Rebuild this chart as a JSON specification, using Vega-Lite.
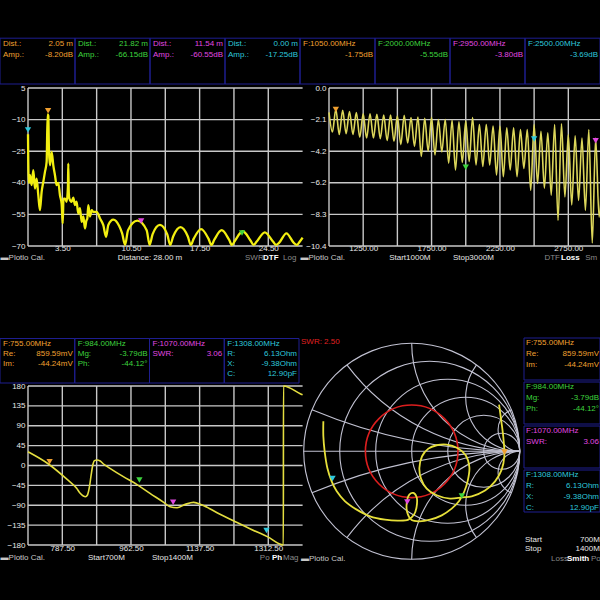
{
  "$schema": "https://vega.github.io/schema/vega-lite/v6.json",
  "width": 600,
  "height": 600,
  "autosize": {"type": "none"},
  "padding": 0,
  "background": "#000000",
  "config": {
    "view": {"stroke": null},
    "axis": {"grid": false, "domain": false, "ticks": false, "tickSize": 0, "labelColor": "#e8e8e8", "labelFont": "Liberation Sans", "labelFontSize": 8, "labelOverlap": false, "labelFlush": false, "labelBound": false, "labelAngle": 0},
    "text": {"font": "Liberation Sans", "fontSize": 8, "baseline": "middle"},
    "rule": {"color": "#c8c8c8", "strokeWidth": 1.4}
  },
  "datasets": {
    "topinfo": [
      {"col": 0, "slot": 0, "m": "o", "lab": "Dist.:", "val": "2.05 m"},
      {"col": 0, "slot": 1, "m": "o", "lab": "Amp.:", "val": "-8.20dB"},
      {"col": 1, "slot": 0, "m": "g", "lab": "Dist.:", "val": "21.82 m"},
      {"col": 1, "slot": 1, "m": "g", "lab": "Amp.:", "val": "-66.15dB"},
      {"col": 2, "slot": 0, "m": "m", "lab": "Dist.:", "val": "11.54 m"},
      {"col": 2, "slot": 1, "m": "m", "lab": "Amp.:", "val": "-60.55dB"},
      {"col": 3, "slot": 0, "m": "c", "lab": "Dist.:", "val": "0.00 m"},
      {"col": 3, "slot": 1, "m": "c", "lab": "Amp.:", "val": "-17.25dB"},
      {"col": 4, "slot": 0, "m": "o", "lab": "F:1050.00MHz", "val": ""},
      {"col": 4, "slot": 1, "m": "o", "lab": "", "val": "-1.75dB"},
      {"col": 5, "slot": 0, "m": "g", "lab": "F:2000.00MHz", "val": ""},
      {"col": 5, "slot": 1, "m": "g", "lab": "", "val": "-5.55dB"},
      {"col": 6, "slot": 0, "m": "m", "lab": "F:2950.00MHz", "val": ""},
      {"col": 6, "slot": 1, "m": "m", "lab": "", "val": "-3.80dB"},
      {"col": 7, "slot": 0, "m": "c", "lab": "F:2500.00MHz", "val": ""},
      {"col": 7, "slot": 1, "m": "c", "lab": "", "val": "-3.69dB"}
    ],
    "blinfo": [
      {"col": 0, "slot": 0, "m": "o", "lab": "F:755.00MHz", "val": ""},
      {"col": 0, "slot": 1, "m": "o", "lab": "Re:", "val": "859.59mV"},
      {"col": 0, "slot": 2, "m": "o", "lab": "Im:", "val": "-44.24mV"},
      {"col": 0, "slot": 3, "m": "o", "lab": "", "val": ""},
      {"col": 1, "slot": 0, "m": "g", "lab": "F:984.00MHz", "val": ""},
      {"col": 1, "slot": 1, "m": "g", "lab": "Mg:", "val": "-3.79dB"},
      {"col": 1, "slot": 2, "m": "g", "lab": "Ph:", "val": "-44.12°"},
      {"col": 1, "slot": 3, "m": "g", "lab": "", "val": ""},
      {"col": 2, "slot": 0, "m": "m", "lab": "F:1070.00MHz", "val": ""},
      {"col": 2, "slot": 1, "m": "m", "lab": "SWR:", "val": "3.06"},
      {"col": 2, "slot": 2, "m": "m", "lab": "", "val": ""},
      {"col": 2, "slot": 3, "m": "m", "lab": "", "val": ""},
      {"col": 3, "slot": 0, "m": "c", "lab": "F:1308.00MHz", "val": ""},
      {"col": 3, "slot": 1, "m": "c", "lab": "R:", "val": "6.13Ohm"},
      {"col": 3, "slot": 2, "m": "c", "lab": "X:", "val": "-9.38Ohm"},
      {"col": 3, "slot": 3, "m": "c", "lab": "C:", "val": "12.90pF"}
    ],
    "brinfo": [
      {"col": 0, "box": 0, "slot": 0, "m": "o", "lab": "F:755.00MHz", "val": ""},
      {"col": 0, "box": 0, "slot": 1, "m": "o", "lab": "Re:", "val": "859.59mV"},
      {"col": 0, "box": 0, "slot": 2, "m": "o", "lab": "Im:", "val": "-44.24mV"},
      {"col": 0, "box": 0, "slot": 3, "m": "o", "lab": "", "val": ""},
      {"col": 0, "box": 1, "slot": 4, "m": "g", "lab": "F:984.00MHz", "val": ""},
      {"col": 0, "box": 1, "slot": 5, "m": "g", "lab": "Mg:", "val": "-3.79dB"},
      {"col": 0, "box": 1, "slot": 6, "m": "g", "lab": "Ph:", "val": "-44.12°"},
      {"col": 0, "box": 1, "slot": 7, "m": "g", "lab": "", "val": ""},
      {"col": 0, "box": 2, "slot": 8, "m": "m", "lab": "F:1070.00MHz", "val": ""},
      {"col": 0, "box": 2, "slot": 9, "m": "m", "lab": "SWR:", "val": "3.06"},
      {"col": 0, "box": 2, "slot": 10, "m": "m", "lab": "", "val": ""},
      {"col": 0, "box": 2, "slot": 11, "m": "m", "lab": "", "val": ""},
      {"col": 0, "box": 3, "slot": 12, "m": "c", "lab": "F:1308.00MHz", "val": ""},
      {"col": 0, "box": 3, "slot": 13, "m": "c", "lab": "R:", "val": "6.13Ohm"},
      {"col": 0, "box": 3, "slot": 14, "m": "c", "lab": "X:", "val": "-9.38Ohm"},
      {"col": 0, "box": 3, "slot": 15, "m": "c", "lab": "C:", "val": "12.90pF"}
    ],
    "tlgx": [{"v": 0}, {"v": 3.5}, {"v": 7}, {"v": 10.5}, {"v": 14}, {"v": 17.5}, {"v": 21}, {"v": 24.5}],
    "tlgy": [{"v": 5}, {"v": -10}, {"v": -25}, {"v": -40}, {"v": -55}, {"v": -70}],
    "trgx": [{"v": 1000}, {"v": 1250}, {"v": 1500}, {"v": 1750}, {"v": 2000}, {"v": 2250}, {"v": 2500}, {"v": 2750}],
    "trgy": [{"v": 0}, {"v": -2.08}, {"v": -4.16}, {"v": -6.24}, {"v": -8.32}, {"v": -10.4}],
    "blgx": [{"v": 700}, {"v": 787.5}, {"v": 875}, {"v": 962.5}, {"v": 1050}, {"v": 1137.5}, {"v": 1225}, {"v": 1312.5}],
    "blgy": [{"v": 180}, {"v": 135}, {"v": 90}, {"v": 45}, {"v": 0}, {"v": -45}, {"v": -90}, {"v": -135}, {"v": -180}],
    "dtf": [
      {"d": 0, "a": -17}, {"d": 0.03, "a": -30}, {"d": 0.08, "a": -40}, {"d": 0.2, "a": -36.4}, {"d": 0.37, "a": -41.1}, {"d": 0.54, "a": -34}, {"d": 0.71, "a": -42.7}, {"d": 0.88, "a": -38}, {"d": 1.05, "a": -45.9}, {"d": 1.22, "a": -53}, {"d": 1.39, "a": -44.3}, {"d": 1.56, "a": -39.6}, {"d": 1.73, "a": -34.8}, {"d": 1.9, "a": -30.1}, {"d": 2.0, "a": -7.5}, {"d": 2.07, "a": -8.2}, {"d": 2.14, "a": -25.3}, {"d": 2.24, "a": -31.7}, {"d": 2.41, "a": -25.3}, {"d": 2.58, "a": -31.7}, {"d": 2.75, "a": -36.4}, {"d": 2.92, "a": -41.1}, {"d": 3.09, "a": -40}, {"d": 3.26, "a": -45.9}, {"d": 3.43, "a": -50}, {"d": 3.54, "a": -59.3}, {"d": 3.62, "a": -47.5}, {"d": 3.77, "a": -47.5}, {"d": 3.94, "a": -49}, {"d": 4.07, "a": -42}, {"d": 4.11, "a": -30.9}, {"d": 4.16, "a": -45}, {"d": 4.22, "a": -47.5}, {"d": 4.45, "a": -49}, {"d": 4.62, "a": -47}, {"d": 4.79, "a": -50.6}, {"d": 4.95, "a": -49}, {"d": 5.13, "a": -54.6}, {"d": 5.3, "a": -52}, {"d": 5.47, "a": -58.5}, {"d": 5.64, "a": -56}, {"d": 5.81, "a": -61.7}, {"d": 5.95, "a": -58}, {"d": 6.05, "a": -56.9}, {"d": 6.15, "a": -50.6}, {"d": 6.32, "a": -56}, {"d": 6.5, "a": -53}, {"d": 6.66, "a": -53.8}, {"d": 7.0, "a": -53.8}, {"d": 7.34, "a": -56.9}, {"d": 7.68, "a": -60.1}, {"d": 7.96, "a": -65.6}, {"d": 8.19, "a": -60}, {"d": 8.7, "a": -57.5}, {"d": 9.3, "a": -60.5}, {"d": 9.6, "a": -64}, {"d": 9.9, "a": -69.5}, {"d": 10.2, "a": -62.5}, {"d": 11.15, "a": -58}, {"d": 12.1, "a": -62.5}, {"d": 12.4, "a": -69.5}, {"d": 12.7, "a": -64.5}, {"d": 13.45, "a": -60}, {"d": 14.2, "a": -64.5}, {"d": 14.5, "a": -69.5}, {"d": 14.8, "a": -65.5}, {"d": 15.55, "a": -61}, {"d": 16.3, "a": -65.5}, {"d": 16.6, "a": -69.5}, {"d": 16.9, "a": -66.5}, {"d": 17.65, "a": -62}, {"d": 18.4, "a": -66.5}, {"d": 18.7, "a": -69.5}, {"d": 19.0, "a": -67}, {"d": 19.75, "a": -62.5}, {"d": 20.5, "a": -67}, {"d": 20.8, "a": -69.5}, {"d": 21.1, "a": -67.5}, {"d": 21.9, "a": -63}, {"d": 22.7, "a": -67.5}, {"d": 23.0, "a": -69.5}, {"d": 23.3, "a": -68}, {"d": 24.15, "a": -63.5}, {"d": 25.0, "a": -68}, {"d": 25.3, "a": -69.5}, {"d": 25.6, "a": -68.5}, {"d": 26.35, "a": -64}, {"d": 27.1, "a": -68.5}, {"d": 27.4, "a": -69.5}, {"d": 27.7, "a": -68}, {"d": 28.0, "a": -66}
    ],
    "dtfmk": [
      {"m": "o", "d": 2.05, "a": -8.2}, {"m": "g", "d": 21.82, "a": -66.15}, {"m": "m", "d": 11.54, "a": -60.55}, {"m": "c", "d": 0, "a": -17.25}
    ],
    "loss": [
      {"f": 1000, "v": -1.6}, {"f": 1025, "v": -2.9}, {"f": 1050, "v": -1.4}, {"f": 1075, "v": -3.06}, {"f": 1100, "v": -1.47}, {"f": 1125, "v": -3.0}, {"f": 1150, "v": -1.55}, {"f": 1175, "v": -3.06}, {"f": 1200, "v": -1.62}, {"f": 1225, "v": -3.24}, {"f": 1250, "v": -1.69}, {"f": 1275, "v": -3.29}, {"f": 1300, "v": -1.69}, {"f": 1325, "v": -3.29}, {"f": 1350, "v": -1.73}, {"f": 1375, "v": -3.33}, {"f": 1400, "v": -1.78}, {"f": 1425, "v": -3.46}, {"f": 1450, "v": -1.78}, {"f": 1475, "v": -3.5}, {"f": 1500, "v": -1.84}, {"f": 1525, "v": -3.73}, {"f": 1550, "v": -1.8}, {"f": 1575, "v": -3.62}, {"f": 1600, "v": -1.95}, {"f": 1625, "v": -3.84}, {"f": 1650, "v": -1.91}, {"f": 1675, "v": -4.5}, {"f": 1700, "v": -2.0}, {"f": 1725, "v": -4.15}, {"f": 1750, "v": -1.95}, {"f": 1775, "v": -4.4}, {"f": 1800, "v": -2.07}, {"f": 1825, "v": -4.2}, {"f": 1850, "v": -2.07}, {"f": 1875, "v": -4.95}, {"f": 1900, "v": -2.13}, {"f": 1925, "v": -5.4}, {"f": 1950, "v": -2.22}, {"f": 1975, "v": -4.9}, {"f": 2000, "v": -2.18}, {"f": 2025, "v": -4.84}, {"f": 2050, "v": -1.95}, {"f": 2075, "v": -5.06}, {"f": 2100, "v": -2.4}, {"f": 2125, "v": -5.17}, {"f": 2150, "v": -2.4}, {"f": 2175, "v": -5.06}, {"f": 2200, "v": -2.5}, {"f": 2225, "v": -5.73}, {"f": 2250, "v": -2.5}, {"f": 2275, "v": -5.84}, {"f": 2300, "v": -2.62}, {"f": 2325, "v": -5.4}, {"f": 2350, "v": -2.62}, {"f": 2375, "v": -5.84}, {"f": 2400, "v": -2.73}, {"f": 2425, "v": -5.3}, {"f": 2450, "v": -2.73}, {"f": 2475, "v": -6.73}, {"f": 2500, "v": -2.4}, {"f": 2525, "v": -6.28}, {"f": 2550, "v": -2.85}, {"f": 2575, "v": -6.6}, {"f": 2600, "v": -2.95}, {"f": 2625, "v": -7.06}, {"f": 2650, "v": -2.4}, {"f": 2675, "v": -8.72}, {"f": 2700, "v": -2.35}, {"f": 2725, "v": -7.17}, {"f": 2750, "v": -3.06}, {"f": 2775, "v": -7.7}, {"f": 2800, "v": -3.15}, {"f": 2825, "v": -7.4}, {"f": 2850, "v": -3.29}, {"f": 2875, "v": -8.06}, {"f": 2900, "v": -2.73}, {"f": 2925, "v": -10.2}, {"f": 2950, "v": -3.29}, {"f": 2975, "v": -8.5}, {"f": 3000, "v": -3.5}
    ],
    "lossmk": [
      {"m": "o", "f": 1050, "v": -1.75}, {"m": "g", "f": 2000, "v": -5.55}, {"m": "m", "f": 2950, "v": -3.8}, {"m": "c", "f": 2500, "v": -3.69}
    ],
    "phase": [
      {"f": 700, "p": 31}, {"f": 752, "p": 3.4}, {"f": 799, "p": -31}, {"f": 824, "p": -51.7}, {"f": 833, "p": -63}, {"f": 841, "p": -69}, {"f": 846.5, "p": -70.6}, {"f": 851.6, "p": -66.8}, {"f": 856.7, "p": -48}, {"f": 861, "p": -21.5}, {"f": 865.2, "p": 1.1}, {"f": 869.5, "p": 11}, {"f": 875.4, "p": 12.4}, {"f": 884, "p": 10.2}, {"f": 892.5, "p": 3.4}, {"f": 909, "p": -6.4}, {"f": 943, "p": -25.3}, {"f": 977, "p": -42.6}, {"f": 1011, "p": -63}, {"f": 1046, "p": -83.4}, {"f": 1062, "p": -93.2}, {"f": 1080, "p": -95.5}, {"f": 1101, "p": -88}, {"f": 1122, "p": -83.4}, {"f": 1144, "p": -89.4}, {"f": 1182, "p": -106.8}, {"f": 1225, "p": -125.7}, {"f": 1267, "p": -143.8}, {"f": 1310, "p": -161.1}, {"f": 1351, "p": -180}, {"f": 1351.2, "p": 180}, {"f": 1395, "p": 162}, {"f": 1400, "p": 160}
    ],
    "phasemk": [
      {"m": "o", "f": 755, "p": -2.95}, {"m": "g", "f": 984, "p": -44.12}, {"m": "m", "f": 1070, "p": -94.6}, {"m": "c", "f": 1308, "p": -158.4}
    ],
    "smithgrid": [
      {"cx": 0, "cy": 0, "rad": 1, "t0": 0, "t1": 6.2832},
      {"cx": 0.1667, "cy": 0, "rad": 0.8333, "t0": 0, "t1": 6.2832},
      {"cx": 0.3333, "cy": 0, "rad": 0.6667, "t0": 0, "t1": 6.2832},
      {"cx": 0.5, "cy": 0, "rad": 0.5, "t0": 0, "t1": 6.2832},
      {"cx": 0.6667, "cy": 0, "rad": 0.3333, "t0": 0, "t1": 6.2832},
      {"cx": 0.8333, "cy": 0, "rad": 0.1667, "t0": 0, "t1": 6.2832},
      {"cx": 1, "cy": 5, "rad": 5, "t0": 3.1416, "t1": 3.5364},
      {"cx": 1, "cy": 2, "rad": 2, "t0": 3.1416, "t1": 4.0689},
      {"cx": 1, "cy": 1, "rad": 1, "t0": 3.1416, "t1": 4.7124},
      {"cx": 1, "cy": 0.5, "rad": 0.5, "t0": 3.1416, "t1": 5.3559},
      {"cx": 1, "cy": 0.2, "rad": 0.2, "t0": 3.1416, "t1": 5.8884},
      {"cx": 1, "cy": -5, "rad": 5, "t0": -0.3948, "t1": 0},
      {"cx": 1, "cy": -2, "rad": 2, "t0": -0.9273, "t1": 0},
      {"cx": 1, "cy": -1, "rad": 1, "t0": -1.5708, "t1": 0},
      {"cx": 1, "cy": -0.5, "rad": 0.5, "t0": -2.2143, "t1": 0},
      {"cx": 1, "cy": -0.2, "rad": 0.2, "t0": -2.7468, "t1": 0}
    ],
    "smithtrace": [
      {"i": 1, "gx": 0.809, "gy": 0.432}, {"i": 2, "gx": 0.83, "gy": 0.278}, {"i": 3, "gx": 0.849, "gy": 0.123}, {"i": 4, "gx": 0.858, "gy": -0.043}, {"i": 5, "gx": 0.833, "gy": -0.17}, {"i": 6, "gx": 0.772, "gy": -0.278}, {"i": 7, "gx": 0.679, "gy": -0.364}, {"i": 8, "gx": 0.556, "gy": -0.417}, {"i": 9, "gx": 0.469, "gy": -0.426}, {"i": 10, "gx": 0.355, "gy": -0.438}, {"i": 11, "gx": 0.231, "gy": -0.407}, {"i": 12, "gx": 0.139, "gy": -0.346}, {"i": 13, "gx": 0.086, "gy": -0.253}, {"i": 14, "gx": 0.071, "gy": -0.154}, {"i": 15, "gx": 0.096, "gy": -0.046}, {"i": 16, "gx": 0.154, "gy": 0.025}, {"i": 17, "gx": 0.231, "gy": 0.056}, {"i": 18, "gx": 0.324, "gy": 0.062}, {"i": 19, "gx": 0.423, "gy": 0.031}, {"i": 20, "gx": 0.5, "gy": -0.037}, {"i": 21, "gx": 0.534, "gy": -0.148}, {"i": 22, "gx": 0.519, "gy": -0.272}, {"i": 23, "gx": 0.488, "gy": -0.37}, {"i": 24, "gx": 0.441, "gy": -0.457}, {"i": 25, "gx": 0.37, "gy": -0.531}, {"i": 26, "gx": 0.278, "gy": -0.593}, {"i": 27, "gx": 0.17, "gy": -0.633}, {"i": 28, "gx": 0.071, "gy": -0.648}, {"i": 29, "gx": 0.0, "gy": -0.636}, {"i": 30, "gx": -0.04, "gy": -0.571}, {"i": 31, "gx": -0.046, "gy": -0.478}, {"i": 32, "gx": -0.022, "gy": -0.401}, {"i": 33, "gx": 0.015, "gy": -0.386}, {"i": 34, "gx": 0.046, "gy": -0.426}, {"i": 35, "gx": 0.046, "gy": -0.509}, {"i": 36, "gx": 0.022, "gy": -0.586}, {"i": 37, "gx": -0.031, "gy": -0.633}, {"i": 38, "gx": -0.123, "gy": -0.642}, {"i": 39, "gx": -0.247, "gy": -0.633}, {"i": 40, "gx": -0.386, "gy": -0.602}, {"i": 41, "gx": -0.509, "gy": -0.54}, {"i": 42, "gx": -0.617, "gy": -0.463}, {"i": 43, "gx": -0.694, "gy": -0.37}, {"i": 44, "gx": -0.741, "gy": -0.278}, {"i": 45, "gx": -0.781, "gy": -0.154}, {"i": 46, "gx": -0.806, "gy": 0.0}, {"i": 47, "gx": -0.818, "gy": 0.139}, {"i": 48, "gx": -0.818, "gy": 0.278}
    ],
    "smithmk": [
      {"m": "o", "gx": 0.8596, "gy": -0.0442}, {"m": "g", "gx": 0.4639, "gy": -0.4501}, {"m": "m", "gx": -0.041, "gy": -0.506}, {"m": "c", "gx": -0.7332, "gy": -0.2896}
    ]
  },
  "layer": [
    {
      "data": {"name": "topinfo"},
      "layer": [
        {
          "mark": {"type": "rect", "filled": false, "color": "#1e1e90", "strokeWidth": 1, "yOffset": -6, "y2Offset": 28.7},
          "encoding": {
            "x": {"field": "col", "type": "ordinal", "scale": {"type": "band", "domain": [0, 1, 2, 3, 4, 5, 6, 7], "range": [0, 600], "paddingInner": 0, "paddingOuter": 0}, "axis": null},
            "y": {"aggregate": "min", "field": "slot", "type": "quantitative", "scale": {"domain": [0, 1], "range": [44.2, 55.3], "nice": false, "zero": false}, "axis": null},
            "y2": {"aggregate": "max", "field": "slot"}
          }
        },
        {
          "mark": {"type": "text", "align": "left", "dx": 3},
          "encoding": {
            "x": {"field": "col", "type": "ordinal", "bandPosition": 0, "axis": null},
            "y": {"field": "slot", "type": "quantitative", "axis": null},
            "text": {"field": "lab"},
            "color": {"field": "m", "type": "nominal", "scale": {"domain": ["o", "g", "m", "c"], "range": ["#f0a030", "#3ed43e", "#e048e0", "#2ec8dc"]}, "legend": null}
          }
        },
        {
          "mark": {"type": "text", "align": "right", "dx": -2},
          "encoding": {
            "x": {"field": "col", "type": "ordinal", "bandPosition": 1, "axis": null},
            "y": {"field": "slot", "type": "quantitative", "axis": null},
            "text": {"field": "val"},
            "color": {"field": "m", "type": "nominal", "scale": {"domain": ["o", "g", "m", "c"], "range": ["#f0a030", "#3ed43e", "#e048e0", "#2ec8dc"]}, "legend": null}
          }
        }
      ]
    },
    {
      "layer": [
        {
          "data": {"name": "tlgx"},
          "mark": {"type": "rule"},
          "encoding": {"x": {"field": "v", "type": "quantitative"}, "y": {"datum": -70}, "y2": {"datum": 5}}
        },
        {
          "data": {"name": "tlgy"},
          "mark": {"type": "rule"},
          "encoding": {"y": {"field": "v", "type": "quantitative"}, "x": {"datum": 0}, "x2": {"datum": 28}}
        },
        {
          "data": {"name": "dtf"},
          "mark": {"type": "line", "color": "#f2ee10", "strokeWidth": 2.3, "interpolate": "monotone"},
          "encoding": {
            "x": {"field": "d", "type": "quantitative", "scale": {"domain": [0, 28], "range": [28, 302.6], "nice": false, "zero": false},
              "axis": {"orient": "top", "offset": -246, "values": [0, 3.5, 7, 10.5, 14, 17.5, 21, 24.5], "labelExpr": "datum.value % 7 == 3.5 ? format(datum.value, '.2f') : ''", "labelBaseline": "top", "labelPadding": 1.5, "title": null}},
            "y": {"field": "a", "type": "quantitative", "scale": {"domain": [-70, 5], "range": [246, 88], "nice": false, "zero": false},
              "axis": {"orient": "left", "offset": -28, "values": [5, -10, -25, -40, -55, -70], "labelPadding": 3, "title": null}}
          }
        },
        {
          "data": {"name": "dtfmk"},
          "mark": {"type": "point", "shape": "triangle-down", "filled": true, "opacity": 1, "size": 40, "yOffset": -5},
          "encoding": {
            "x": {"field": "d", "type": "quantitative"},
            "y": {"field": "a", "type": "quantitative"},
            "color": {"field": "m", "type": "nominal", "scale": {"domain": ["o", "g", "m", "c"], "range": ["#f0a030", "#3ed43e", "#e048e0", "#2ec8dc"]}, "legend": null}
          }
        },
        {
          "data": {"values": [{"t": "▬Plotlo Cal."}]},
          "mark": {"type": "text", "align": "left", "color": "#c8c8c8"},
          "encoding": {"x": {"datum": -2.8}, "y": {"datum": -75.9}, "text": {"field": "t"}}
        },
        {
          "data": {"values": [{"t": "Distance: 28.00 m"}]},
          "mark": {"type": "text", "align": "center", "color": "#e6e6e6"},
          "encoding": {"x": {"datum": 12.44}, "y": {"datum": -75.9}, "text": {"field": "t"}}
        },
        {
          "data": {"values": [{"t": "SWR"}]},
          "mark": {"type": "text", "align": "left", "color": "#8a8a8a"},
          "encoding": {"x": {"datum": 22.13}, "y": {"datum": -75.9}, "text": {"field": "t"}}
        },
        {
          "data": {"values": [{"t": "DTF"}]},
          "mark": {"type": "text", "align": "left", "color": "#ffffff", "fontWeight": "bold"},
          "encoding": {"x": {"datum": 23.96}, "y": {"datum": -75.9}, "text": {"field": "t"}}
        },
        {
          "data": {"values": [{"t": "Log"}]},
          "mark": {"type": "text", "align": "left", "color": "#8a8a8a"},
          "encoding": {"x": {"datum": 26.0}, "y": {"datum": -75.9}, "text": {"field": "t"}}
        }
      ]
    },
    {
      "layer": [
        {
          "data": {"name": "trgx"},
          "mark": {"type": "rule"},
          "encoding": {"x": {"field": "v", "type": "quantitative"}, "y": {"datum": -10.4}, "y2": {"datum": 0}}
        },
        {
          "data": {"name": "trgy"},
          "mark": {"type": "rule"},
          "encoding": {"y": {"field": "v", "type": "quantitative"}, "x": {"datum": 1000}, "x2": {"datum": 3000}}
        },
        {
          "data": {"name": "loss"},
          "mark": {"type": "line", "color": "#dcd65a", "strokeWidth": 1.6, "interpolate": "monotone"},
          "encoding": {
            "x": {"field": "f", "type": "quantitative", "scale": {"domain": [1000, 3000], "range": [329, 602.5], "nice": false, "zero": false},
              "axis": {"orient": "top", "offset": -246, "values": [1000, 1250, 1500, 1750, 2000, 2250, 2500, 2750], "labelExpr": "datum.value % 500 == 250 ? format(datum.value, '.2f') : ''", "labelBaseline": "top", "labelPadding": 1.5, "title": null}},
            "y": {"field": "v", "type": "quantitative", "scale": {"domain": [-10.4, 0], "range": [246, 88], "nice": false, "zero": false},
              "axis": {"orient": "left", "offset": -329, "values": [0, -2.08, -4.16, -6.24, -8.32, -10.4], "format": ".1f", "labelPadding": 3, "title": null}}
          }
        },
        {
          "data": {"name": "lossmk"},
          "mark": {"type": "point", "shape": "triangle-down", "filled": true, "opacity": 1, "size": 40, "yOffset": -5},
          "encoding": {
            "x": {"field": "f", "type": "quantitative"},
            "y": {"field": "v", "type": "quantitative"},
            "color": {"field": "m", "type": "nominal", "scale": {"domain": ["o", "g", "m", "c"], "range": ["#f0a030", "#3ed43e", "#e048e0", "#2ec8dc"]}, "legend": null}
          }
        },
        {
          "data": {"values": [{"t": "▬Plotlo Cal."}]},
          "mark": {"type": "text", "align": "left", "color": "#c8c8c8"},
          "encoding": {"x": {"datum": 791}, "y": {"datum": -11.22}, "text": {"field": "t"}}
        },
        {
          "data": {"values": [{"t": "Start1000M"}]},
          "mark": {"type": "text", "align": "left", "color": "#e6e6e6"},
          "encoding": {"x": {"datum": 1440}, "y": {"datum": -11.22}, "text": {"field": "t"}}
        },
        {
          "data": {"values": [{"t": "Stop3000M"}]},
          "mark": {"type": "text", "align": "left", "color": "#e6e6e6"},
          "encoding": {"x": {"datum": 1906}, "y": {"datum": -11.22}, "text": {"field": "t"}}
        },
        {
          "data": {"values": [{"t": "DTF"}]},
          "mark": {"type": "text", "align": "left", "color": "#8a8a8a"},
          "encoding": {"x": {"datum": 2575}, "y": {"datum": -11.22}, "text": {"field": "t"}}
        },
        {
          "data": {"values": [{"t": "Loss"}]},
          "mark": {"type": "text", "align": "left", "color": "#ffffff", "fontWeight": "bold"},
          "encoding": {"x": {"datum": 2697}, "y": {"datum": -11.22}, "text": {"field": "t"}}
        },
        {
          "data": {"values": [{"t": "Sm"}]},
          "mark": {"type": "text", "align": "left", "color": "#8a8a8a"},
          "encoding": {"x": {"datum": 2873}, "y": {"datum": -11.22}, "text": {"field": "t"}}
        }
      ]
    },
    {
      "data": {"name": "blinfo"},
      "layer": [
        {
          "mark": {"type": "rect", "filled": false, "color": "#1e1e90", "strokeWidth": 1, "yOffset": -5.5, "y2Offset": 9},
          "encoding": {
            "x": {"field": "col", "type": "ordinal", "scale": {"type": "band", "domain": [0, 1, 2, 3], "range": [0, 299], "paddingInner": 0, "paddingOuter": 0}, "axis": null},
            "y": {"aggregate": "min", "field": "slot", "type": "quantitative", "scale": {"domain": [0, 3], "range": [344, 374], "nice": false, "zero": false}, "axis": null},
            "y2": {"aggregate": "max", "field": "slot"}
          }
        },
        {
          "mark": {"type": "text", "align": "left", "dx": 3},
          "encoding": {
            "x": {"field": "col", "type": "ordinal", "bandPosition": 0, "axis": null},
            "y": {"field": "slot", "type": "quantitative", "axis": null},
            "text": {"field": "lab"},
            "color": {"field": "m", "type": "nominal", "scale": {"domain": ["o", "g", "m", "c"], "range": ["#f0a030", "#3ed43e", "#e048e0", "#2ec8dc"]}, "legend": null}
          }
        },
        {
          "mark": {"type": "text", "align": "right", "dx": -2},
          "encoding": {
            "x": {"field": "col", "type": "ordinal", "bandPosition": 1, "axis": null},
            "y": {"field": "slot", "type": "quantitative", "axis": null},
            "text": {"field": "val"},
            "color": {"field": "m", "type": "nominal", "scale": {"domain": ["o", "g", "m", "c"], "range": ["#f0a030", "#3ed43e", "#e048e0", "#2ec8dc"]}, "legend": null}
          }
        }
      ]
    },
    {
      "layer": [
        {
          "data": {"name": "blgx"},
          "mark": {"type": "rule"},
          "encoding": {"x": {"field": "v", "type": "quantitative"}, "y": {"datum": -180}, "y2": {"datum": 180}}
        },
        {
          "data": {"name": "blgy"},
          "mark": {"type": "rule"},
          "encoding": {"y": {"field": "v", "type": "quantitative"}, "x": {"datum": 700}, "x2": {"datum": 1400}}
        },
        {
          "data": {"name": "phase"},
          "mark": {"type": "line", "color": "#e4de40", "strokeWidth": 1.6, "interpolate": "monotone"},
          "encoding": {
            "x": {"field": "f", "type": "quantitative", "scale": {"domain": [700, 1400], "range": [28, 302.6], "nice": false, "zero": false},
              "axis": {"orient": "top", "offset": -545, "values": [700, 787.5, 875, 962.5, 1050, 1137.5, 1225, 1312.5], "labelExpr": "(datum.value - 700) % 175 == 87.5 ? format(datum.value, '.2f') : ''", "labelBaseline": "top", "labelPadding": 1, "title": null}},
            "y": {"field": "p", "type": "quantitative", "scale": {"domain": [-180, 180], "range": [545, 386], "nice": false, "zero": false},
              "axis": {"orient": "left", "offset": -28, "values": [180, 135, 90, 45, 0, -45, -90, -135, -180], "labelPadding": 3, "title": null}}
          }
        },
        {
          "data": {"name": "phasemk"},
          "mark": {"type": "point", "shape": "triangle-down", "filled": true, "opacity": 1, "size": 40, "yOffset": -5},
          "encoding": {
            "x": {"field": "f", "type": "quantitative"},
            "y": {"field": "p", "type": "quantitative"},
            "color": {"field": "m", "type": "nominal", "scale": {"domain": ["o", "g", "m", "c"], "range": ["#f0a030", "#3ed43e", "#e048e0", "#2ec8dc"]}, "legend": null}
          }
        },
        {
          "data": {"values": [{"t": "▬Plotlo Cal."}]},
          "mark": {"type": "text", "align": "left", "color": "#c8c8c8"},
          "encoding": {"x": {"datum": 630}, "y": {"datum": -210}, "text": {"field": "t"}}
        },
        {
          "data": {"values": [{"t": "Start700M"}]},
          "mark": {"type": "text", "align": "left", "color": "#e6e6e6"},
          "encoding": {"x": {"datum": 853}, "y": {"datum": -210}, "text": {"field": "t"}}
        },
        {
          "data": {"values": [{"t": "Stop1400M"}]},
          "mark": {"type": "text", "align": "left", "color": "#e6e6e6"},
          "encoding": {"x": {"datum": 1016}, "y": {"datum": -210}, "text": {"field": "t"}}
        },
        {
          "data": {"values": [{"t": "Po"}]},
          "mark": {"type": "text", "align": "left", "color": "#8a8a8a"},
          "encoding": {"x": {"datum": 1291}, "y": {"datum": -210}, "text": {"field": "t"}}
        },
        {
          "data": {"values": [{"t": "Ph"}]},
          "mark": {"type": "text", "align": "left", "color": "#ffffff", "fontWeight": "bold"},
          "encoding": {"x": {"datum": 1322}, "y": {"datum": -210}, "text": {"field": "t"}}
        },
        {
          "data": {"values": [{"t": "Mag"}]},
          "mark": {"type": "text", "align": "left", "color": "#8a8a8a"},
          "encoding": {"x": {"datum": 1350}, "y": {"datum": -210}, "text": {"field": "t"}}
        }
      ]
    },
    {
      "layer": [
        {
          "data": {"name": "smithgrid"},
          "mark": {"type": "arc", "filled": false, "color": "#c2c2d2", "strokeWidth": 1.1},
          "encoding": {
            "x": {"field": "cx", "type": "quantitative", "scale": {"domain": [-1, 1], "range": [303.7, 519.7], "nice": false, "zero": false}, "axis": null},
            "y": {"field": "cy", "type": "quantitative", "scale": {"domain": [-1, 1], "range": [559.3, 343.3], "nice": false, "zero": false}, "axis": null},
            "theta": {"field": "t0", "type": "quantitative", "scale": null, "stack": null},
            "theta2": {"field": "t1"},
            "radius": {"field": "rad", "type": "quantitative", "scale": {"type": "linear", "domain": [0, 1], "range": [0, 108], "nice": false}},
            "radius2": {"field": "rad"}
          }
        },
        {
          "data": {"values": [{"line": "real axis"}]},
          "mark": {"type": "rule", "color": "#c2c2d2", "strokeWidth": 1.1},
          "encoding": {"x": {"datum": -1, "axis": null}, "x2": {"datum": 1}, "y": {"datum": 0, "axis": null}}
        },
        {
          "data": {"values": [{"swr": 2.5, "g": 0.4286}]},
          "mark": {"type": "arc", "filled": false, "color": "#dc1e1e", "strokeWidth": 1.6},
          "encoding": {
            "x": {"datum": 0, "axis": null},
            "y": {"datum": 0, "axis": null},
            "theta": {"value": 0},
            "theta2": {"value": 6.2832},
            "radius": {"field": "g", "type": "quantitative"},
            "radius2": {"field": "g"}
          }
        },
        {
          "data": {"name": "smithtrace"},
          "mark": {"type": "line", "color": "#e6df3a", "strokeWidth": 1.8, "interpolate": "catmull-rom"},
          "encoding": {
            "x": {"field": "gx", "type": "quantitative", "axis": null},
            "y": {"field": "gy", "type": "quantitative", "axis": null},
            "order": {"field": "i", "type": "quantitative"}
          }
        },
        {
          "data": {"name": "smithmk"},
          "mark": {"type": "point", "shape": "triangle-down", "filled": true, "opacity": 1, "size": 40, "yOffset": -4},
          "encoding": {
            "x": {"field": "gx", "type": "quantitative", "axis": null},
            "y": {"field": "gy", "type": "quantitative", "axis": null},
            "color": {"field": "m", "type": "nominal", "scale": {"domain": ["o", "g", "m", "c"], "range": ["#f0a030", "#3ed43e", "#e048e0", "#2ec8dc"]}, "legend": null}
          }
        },
        {
          "data": {"values": [{"t": "SWR: 2.50"}]},
          "mark": {"type": "text", "align": "left", "color": "#e02020"},
          "encoding": {"x": {"datum": -1.025, "axis": null}, "y": {"datum": 1.012, "axis": null}, "text": {"field": "t"}}
        },
        {
          "data": {"values": [{"t": "▬Plotlo Cal."}]},
          "mark": {"type": "text", "align": "left", "color": "#c8c8c8"},
          "encoding": {"x": {"datum": -1.025, "axis": null}, "y": {"datum": -0.997, "axis": null}, "text": {"field": "t"}}
        },
        {
          "data": {"values": [{"t": "Loss"}]},
          "mark": {"type": "text", "align": "left", "color": "#8a8a8a"},
          "encoding": {"x": {"datum": 1.29, "axis": null}, "y": {"datum": -0.997, "axis": null}, "text": {"field": "t"}}
        },
        {
          "data": {"values": [{"t": "Smith"}]},
          "mark": {"type": "text", "align": "left", "color": "#ffffff", "fontWeight": "bold"},
          "encoding": {"x": {"datum": 1.438, "axis": null}, "y": {"datum": -0.997, "axis": null}, "text": {"field": "t"}}
        },
        {
          "data": {"values": [{"t": "Po"}]},
          "mark": {"type": "text", "align": "left", "color": "#8a8a8a"},
          "encoding": {"x": {"datum": 1.66, "axis": null}, "y": {"datum": -0.997, "axis": null}, "text": {"field": "t"}}
        },
        {
          "data": {"values": [{"t": "Start"}]},
          "mark": {"type": "text", "align": "left", "color": "#e6e6e6"},
          "encoding": {"x": {"datum": 1.049, "axis": null}, "y": {"datum": -0.822, "axis": null}, "text": {"field": "t"}}
        },
        {
          "data": {"values": [{"t": "700M"}]},
          "mark": {"type": "text", "align": "right", "color": "#e6e6e6"},
          "encoding": {"x": {"datum": 1.743, "axis": null}, "y": {"datum": -0.822, "axis": null}, "text": {"field": "t"}}
        },
        {
          "data": {"values": [{"t": "Stop"}]},
          "mark": {"type": "text", "align": "left", "color": "#e6e6e6"},
          "encoding": {"x": {"datum": 1.049, "axis": null}, "y": {"datum": -0.909, "axis": null}, "text": {"field": "t"}}
        },
        {
          "data": {"values": [{"t": "1400M"}]},
          "mark": {"type": "text", "align": "right", "color": "#e6e6e6"},
          "encoding": {"x": {"datum": 1.743, "axis": null}, "y": {"datum": -0.909, "axis": null}, "text": {"field": "t"}}
        }
      ]
    },
    {
      "data": {"name": "brinfo"},
      "layer": [
        {
          "mark": {"type": "rect", "filled": false, "color": "#1e1e90", "strokeWidth": 1, "yOffset": -4.7, "y2Offset": 4.3},
          "encoding": {
            "x": {"field": "col", "type": "ordinal", "scale": {"type": "band", "domain": [0], "range": [524, 600], "paddingInner": 0, "paddingOuter": 0}, "axis": null},
            "y": {"aggregate": "min", "field": "slot", "type": "quantitative", "scale": {"domain": [0, 15], "range": [342.7, 507.7], "nice": false, "zero": false}, "axis": null},
            "y2": {"aggregate": "max", "field": "slot"},
            "detail": {"field": "box", "type": "nominal"}
          }
        },
        {
          "mark": {"type": "text", "align": "left", "dx": 2},
          "encoding": {
            "x": {"field": "col", "type": "ordinal", "bandPosition": 0, "axis": null},
            "y": {"field": "slot", "type": "quantitative", "axis": null},
            "text": {"field": "lab"},
            "color": {"field": "m", "type": "nominal", "scale": {"domain": ["o", "g", "m", "c"], "range": ["#f0a030", "#3ed43e", "#e048e0", "#2ec8dc"]}, "legend": null}
          }
        },
        {
          "mark": {"type": "text", "align": "right", "dx": -1},
          "encoding": {
            "x": {"field": "col", "type": "ordinal", "bandPosition": 1, "axis": null},
            "y": {"field": "slot", "type": "quantitative", "axis": null},
            "text": {"field": "val"},
            "color": {"field": "m", "type": "nominal", "scale": {"domain": ["o", "g", "m", "c"], "range": ["#f0a030", "#3ed43e", "#e048e0", "#2ec8dc"]}, "legend": null}
          }
        }
      ]
    }
  ],
  "resolve": {"scale": {"x": "independent", "y": "independent"}}
}
